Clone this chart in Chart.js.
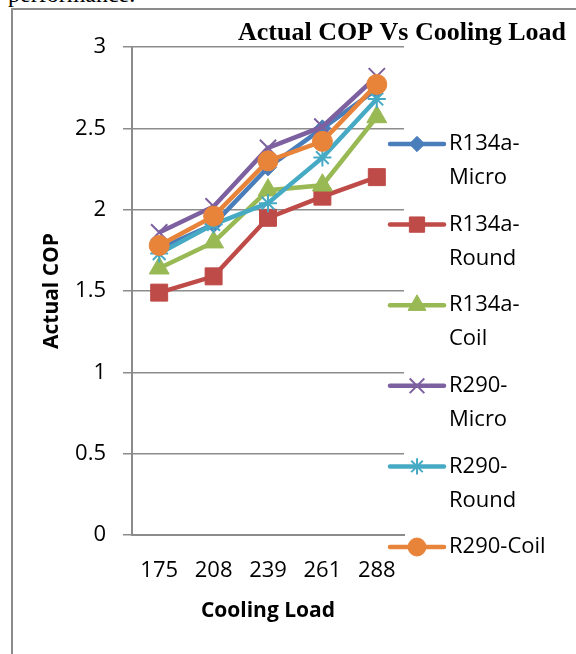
<!DOCTYPE html>
<html>
<head>
<meta charset="utf-8">
<script src="https://cdn.jsdelivr.net/npm/chart.js@4/dist/chart.umd.min.js"></script>
<style>
  body { margin: 0; background: #fff; overflow: hidden; }
  #wrap { position: relative; width: 576px; height: 654px; overflow: hidden; }
  #prev { position: absolute; left: 8px; top: -18px; font: 24px/24px "Liberation Serif", "Times New Roman", serif; color: #000; white-space: nowrap; }
  #frame { position: absolute; left: 11px; top: 8px; width: 600px; height: 700px; border-left: 2px solid #8c8c8c; border-top: 2px solid #8c8c8c; }
  #chart { position: absolute; left: 0; top: 0; }
</style>
</head>
<body>
<div id="wrap">
  <div id="prev">performance.</div>
  <div id="frame"></div>
  <canvas id="chart" width="576" height="654"></canvas>
</div>
<script>
// cooling load categories and COP readings per refrigerant / condenser
const loads = ['175', '208', '239', '261', '288'];
const seriesNames = ['R134a-Micro', 'R134a-Round', 'R134a-Coil', 'R290-Micro', 'R290-Round', 'R290-Coil'];
const r134aMicro = [1.76, 1.91, 2.26, 2.50, 2.74];
const r134aRound = [1.49, 1.59, 1.95, 2.08, 2.20];
const r134aCoil  = [1.64, 1.80, 2.12, 2.15, 2.57];
const r290Micro  = [1.86, 2.02, 2.38, 2.51, 2.82];
const r290Round  = [1.73, 1.91, 2.04, 2.32, 2.68];
const r290Coil   = [1.78, 1.96, 2.30, 2.42, 2.77];
const yTicks = [0, 0.5, 1, 1.5, 2, 2.5, 3];

const seriesValues = [r134aMicro, r134aRound, r134aCoil, r290Micro, r290Round, r290Coil];
const colors = ['#4a7ebb', '#be4b48', '#98b954', '#7d60a0', '#46aac5', '#e8843a'];
const markers = ['rectRot', 'rect', 'triangle', 'crossRot', 'star', 'circle'];
const radii = [8.5, 12, 11.5, 11.5, 9, 10];
const markerLine = [1, 1, 1, 2, 2, 1];

const gridGray = '#8c8c8c';
const sans = '"Open Sans", "Noto Sans", sans-serif';

const datasets = seriesValues.map((vals, i) => ({
  label: seriesNames[i],
  data: vals,
  borderColor: colors[i],
  backgroundColor: colors[i],
  borderWidth: 4.5,
  pointStyle: markers[i],
  pointRadius: radii[i],
  pointBorderWidth: markerLine[i],
  pointBorderColor: colors[i],
  pointBackgroundColor: colors[i],
  tension: 0,
  order: seriesNames.length - 1 - i   // later series on top
}));

// legend at the right, names wrapped after the hyphen when too wide
const sideLegend = {
  id: 'sideLegend',
  afterDraw(chart) {
    const ctx = chart.ctx;
    ctx.save();
    ctx.font = '22px ' + sans;
    ctx.textBaseline = 'middle';
    let y = 144;
    chart.data.datasets.forEach((ds) => {
      ctx.strokeStyle = ds.borderColor;
      ctx.lineWidth = 4.5;
      ctx.lineCap = 'round';
      ctx.beginPath();
      ctx.moveTo(390, y);
      ctx.lineTo(444, y);
      ctx.stroke();

      ctx.fillStyle = ds.pointBackgroundColor;
      ctx.strokeStyle = ds.pointBorderColor;
      ctx.lineWidth = ds.pointBorderWidth;
      ctx.lineCap = 'butt';
      Chart.helpers.drawPoint(ctx, {
        pointStyle: ds.pointStyle,
        radius: ds.pointRadius * 0.9,
        rotation: 0,
        borderWidth: ds.pointBorderWidth
      }, 417, y);

      ctx.fillStyle = '#000';
      let lines = [ds.label];
      if (ctx.measureText(ds.label).width > 103) {
        const cut = ds.label.indexOf('-') + 1;
        lines = [ds.label.slice(0, cut), ds.label.slice(cut)];
      }
      lines.forEach((t, k) => ctx.fillText(t, 449, y + k * 34));
      y += 80.6;
    });
    ctx.restore();
  }
};

const chartTitle = {
  id: 'chartTitle',
  afterDraw(chart) {
    const ctx = chart.ctx;
    ctx.save();
    ctx.font = 'bold 26px "Liberation Serif", "Times New Roman", serif';
    ctx.fillStyle = '#000';
    ctx.textAlign = 'center';
    ctx.textBaseline = 'alphabetic';
    ctx.fillText('Actual COP Vs Cooling Load', 402, 40);
    ctx.restore();
  }
};

new Chart(document.getElementById('chart'), {
  type: 'line',
  data: { labels: loads, datasets: datasets },
  options: {
    responsive: false,
    animation: false,
    layout: { padding: { left: 12, top: 47, right: 172, bottom: 0 } },
    plugins: {
      legend: { display: false },
      tooltip: { enabled: false }
    },
    scales: {
      x: {
        offset: true,
        grid: { display: false, drawTicks: false, offset: true },
        border: { display: true, color: gridGray, width: 2 },
        ticks: { color: '#000', font: { family: sans, size: 22 }, padding: 23, maxRotation: 0 },
        title: { display: true, text: 'Cooling Load', color: '#000', font: { family: sans, size: 21, weight: 'bold' }, padding: { top: 30, bottom: 30 } },
        afterFit(scale) { scale.height = 119; }
      },
      y: {
        min: 0,
        max: 3,
        afterBuildTicks(scale) { scale.ticks = yTicks.map(v => ({ value: v })); },
        grid: { color: gridGray, lineWidth: 1.5, tickLength: 9 },
        border: { display: true, color: gridGray, width: 2 },
        ticks: { color: '#000', font: { family: sans, size: 22 }, padding: 17, callback: (v) => String(v) },
        title: { display: true, text: 'Actual COP', color: '#000', font: { family: sans, size: 21, weight: 'bold' }, padding: { top: 27, bottom: 27 } },
        afterFit(scale) { scale.width = 120; }
      }
    }
  },
  plugins: [sideLegend, chartTitle]
});
</script>
</body>
</html>
